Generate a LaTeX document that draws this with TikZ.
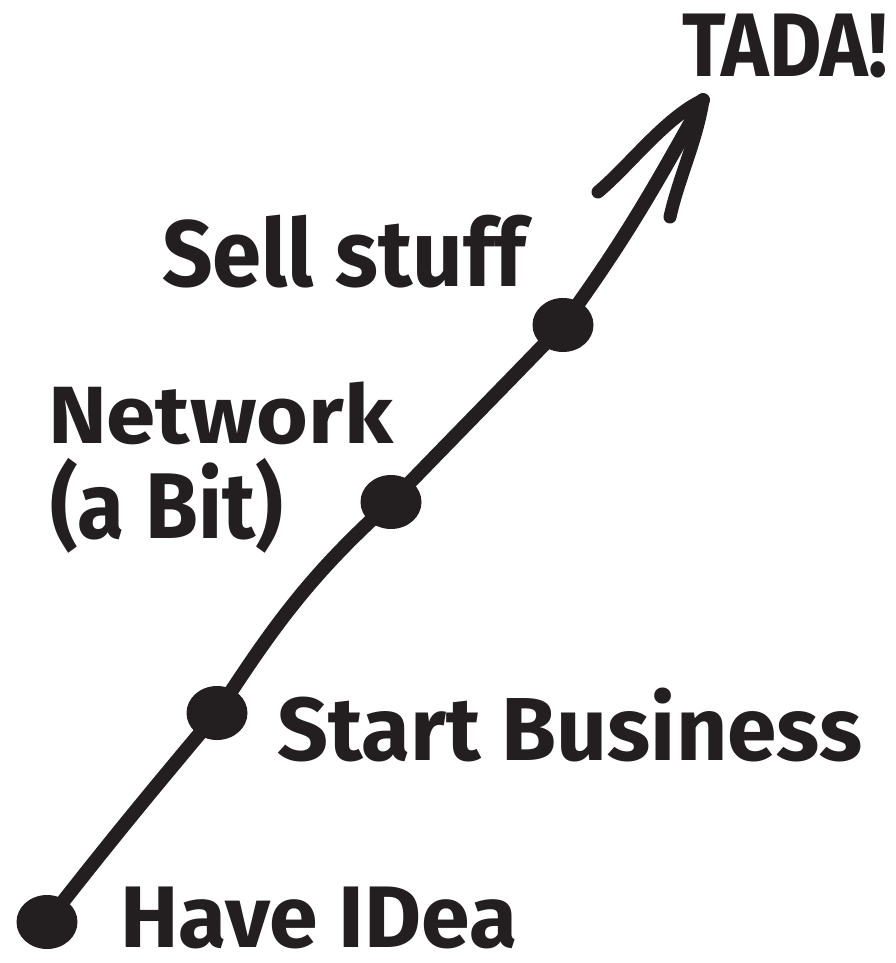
\documentclass[tikz,border=0pt]{standalone}
\usepackage{fontspec}
\setmainfont{Fira Sans}
\usepackage{graphicx}
\usetikzlibrary{shapes.geometric,backgrounds}
\definecolor{ink}{HTML}{231F20}
\newcommand{\fitlbl}[3]{\resizebox*{#1pt}{#2pt}{\bfseries #3}}
\begin{document}
\begin{tikzpicture}[x=1pt,y=1pt,
  dotnode/.style={ellipse,fill=ink,draw=none,minimum width=61pt,minimum height=54pt,inner sep=0pt},
  pathline/.style={draw=ink,line width=14pt,line cap=round},
  barb/.style={draw=ink,line width=13pt,line cap=round,line join=round},
  lbl/.style={anchor=north west,inner sep=0pt,outer sep=0pt,text=ink}]
\useasboundingbox (0,0) rectangle (896,-963);
\coordinate (tip) at (703,-100);
\coordinate (bl) at (598,-192);
\coordinate (br) at (670,-217);
\node[dotnode] (d1) at (47,-922) {};
\node[dotnode] (d2) at (217,-713) {};
\node[dotnode] (d3) at (391,-502) {};
\node[dotnode] (d4) at (563,-325) {};
\begin{scope}[on background layer]
\draw[pathline] (d1.center) to[out=52,in=230] (d2.center);
\draw[pathline] (d2.center) to[out=57,in=222] (d3.center);
\draw[pathline] (d3.center) to[out=46,in=226] (d4.center);
\draw[pathline] (d4.center) to[out=54,in=241] (tip);
\draw[barb] (tip) .. controls (665,-118) and (630,-165) .. (bl);
\draw[barb] (tip) .. controls (697,-140) and (678,-180) .. (br);
\end{scope}
% labels
\node[lbl] (tada) at (682,-14) {\fitlbl{206}{64}{TADA!}};
\node[lbl] (sell) at (162,-215) {\fitlbl{364}{73}{Sell stuff}};
\node[lbl] (net) at (48,-382) {\fitlbl{345}{63}{Network}};
\node[lbl] (bit) at (50,-458) {\fitlbl{233}{95}{(a Bit)}};
\node[lbl] (start) at (277,-688) {\fitlbl{585}{74}{Start Business}};
\node[lbl] (idea) at (120,-887) {\fitlbl{397}{62}{Have IDea}};
\end{tikzpicture}
\end{document}
